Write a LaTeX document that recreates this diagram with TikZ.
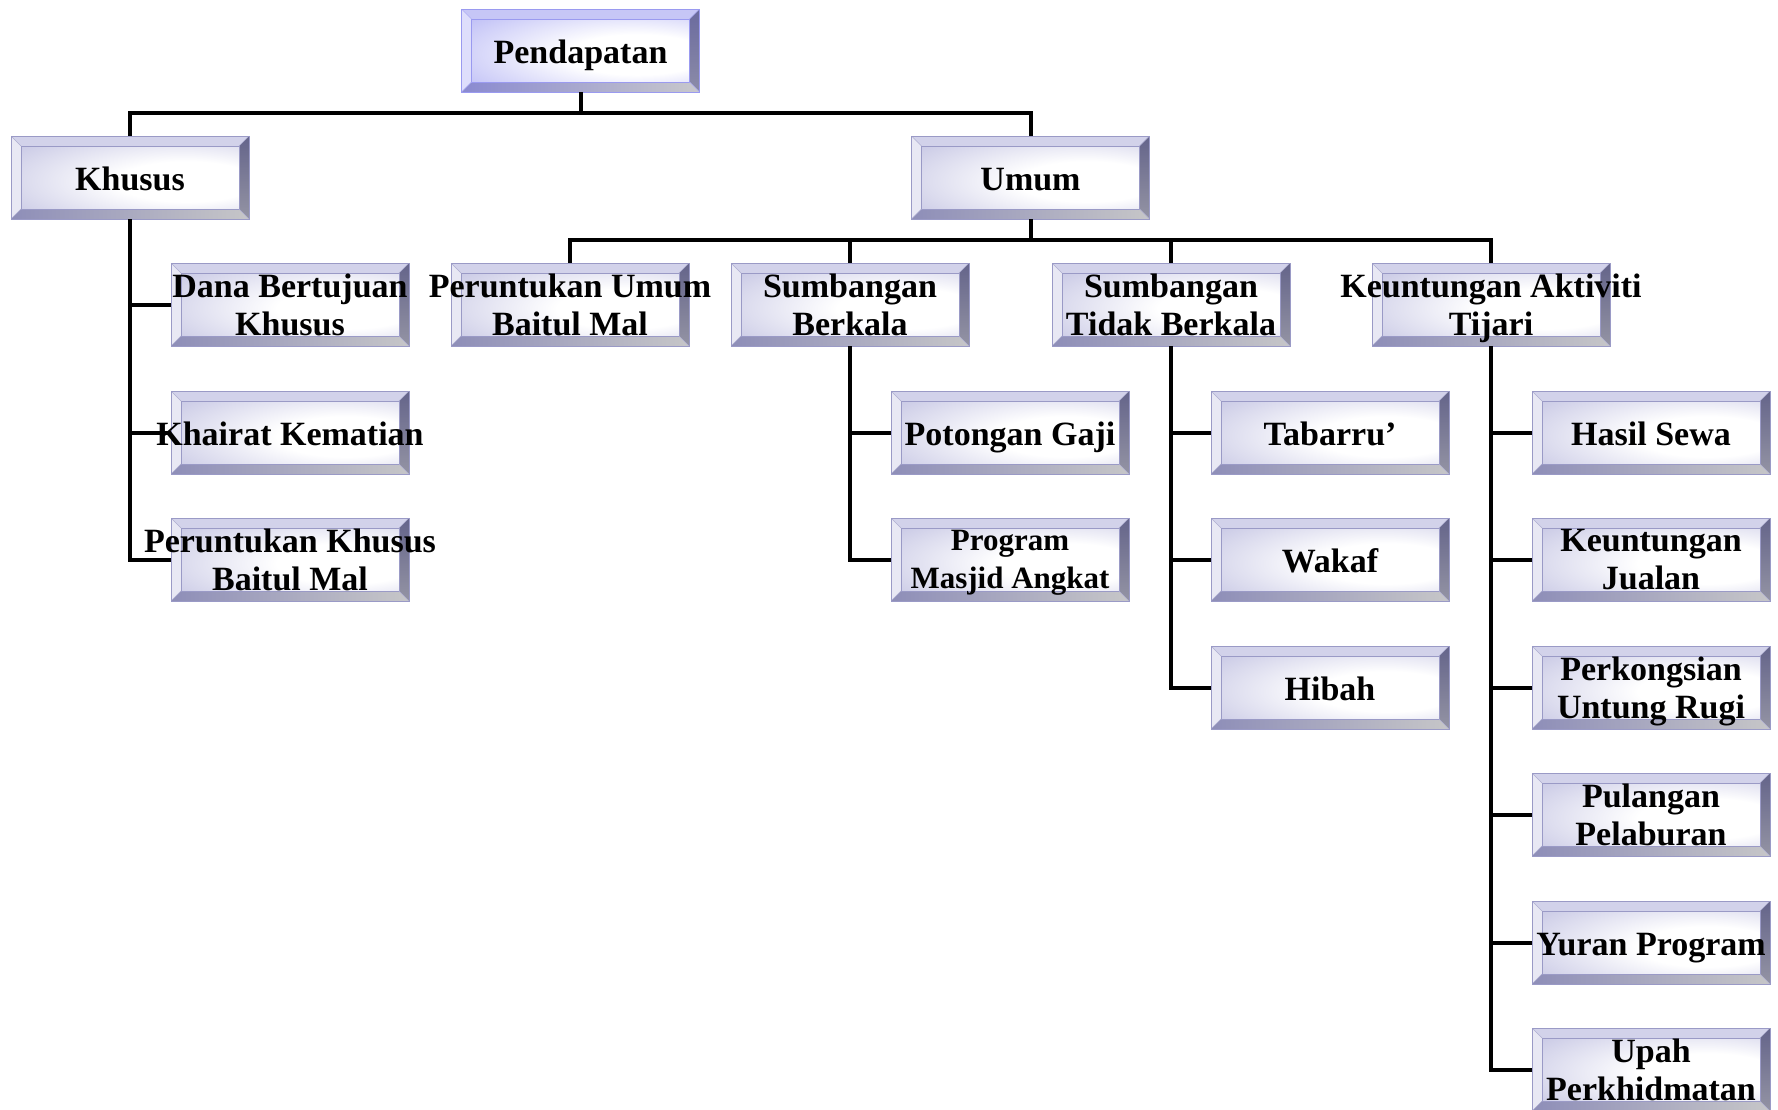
\documentclass[tikz,border=0pt]{standalone}
\usepackage{fontspec}
\setmainfont{Liberation Serif}
\usetikzlibrary{calc}
\definecolor{bborder}{HTML}{9A9AF0}
\definecolor{bface}{HTML}{A4A4F2}
\definecolor{btop}{HTML}{C6C6F6}
\definecolor{bleft}{HTML}{DEDEFC}
\definecolor{brt}{HTML}{6A6A9E}
\definecolor{brb}{HTML}{8C8CA8}
\definecolor{bbl}{HTML}{8A8AD0}
\definecolor{bbr}{HTML}{C8C8CC}
\definecolor{gborder}{HTML}{9A9AC6}
\definecolor{gface}{HTML}{B2B2DA}
\definecolor{gtop}{HTML}{D2D2EA}
\definecolor{gleft}{HTML}{E8E8F4}
\definecolor{grt}{HTML}{64648A}
\definecolor{grb}{HTML}{9494A4}
\definecolor{gbl}{HTML}{8E8EB8}
\definecolor{gbr}{HTML}{C6C6C8}
\pgfdeclareradialshading{brad}{\pgfpoint{16bp}{-4bp}}{color(0bp)=(white); color(16bp)=(white); color(55bp)=(bface); color(85bp)=(bface)}
\pgfdeclareradialshading{grad}{\pgfpoint{16bp}{-4bp}}{color(0bp)=(white); color(16bp)=(white); color(55bp)=(gface); color(85bp)=(gface)}
\tikzset{
  bevbox/.style={minimum width=238pt, minimum height=83pt, inner sep=0pt, draw=#1border, line width=0.8pt,
    path picture={
      \coordinate (bnw) at (path picture bounding box.north west);
      \coordinate (bne) at (path picture bounding box.north east);
      \coordinate (bsw) at (path picture bounding box.south west);
      \coordinate (bse) at (path picture bounding box.south east);
      \coordinate (inw) at ([shift={(10pt,-10pt)}]bnw);
      \coordinate (ine) at ([shift={(-10pt,-10pt)}]bne);
      \coordinate (isw) at ([shift={(10pt,10pt)}]bsw);
      \coordinate (ise) at ([shift={(-10pt,10pt)}]bse);
      \fill[#1face] (bsw) rectangle (bne);
      \shade[shading=#1rad] (isw) rectangle (ine);
      \fill[#1top] (bnw) -- (bne) -- (ine) -- (inw) -- cycle;
      \fill[#1left] (bnw) -- (inw) -- (isw) -- (bsw) -- cycle;
      \shade[top color=#1rt, bottom color=#1rb] (bne) -- (bse) -- (ise) -- (ine) -- cycle;
      \shade[left color=#1bl, right color=#1br] (bsw) -- (bse) -- (ise) -- (isw) -- cycle;
      \draw[#1border, line width=0.5pt] (isw) rectangle (ine);
      \draw[#1border!80!white, line width=0.4pt] (bnw) -- (inw) (bne) -- (ine) (bsw) -- (isw) (bse) -- (ise);
    }},
  lbl/.style={font=\bfseries\fontsize{34}{38}\selectfont, align=center, inner sep=0pt, text=black,
    execute at begin node=\strut, execute at end node=\strut, yshift=-5.6pt},
  lbls/.style={lbl, font=\bfseries\fontsize{31}{38}\selectfont},
  conn/.style={line width=4pt, black},
}
\newcommand\bx[6]{\node[bevbox=#5] (#1) at (#2,-#3) {}; \node[#6] (#1t) at (#1) {#4};}
\begin{document}
\begin{tikzpicture}[x=1pt,y=1pt]
\useasboundingbox (0,0) rectangle (1778,-1109);
% boxes
\bx{P}{580.5}{50.5}{Pendapatan}{b}{lbl}
\bx{K}{130}{177.5}{Khusus}{g}{lbl}
\bx{U}{1030.5}{177.5}{Umum}{g}{lbl}
\bx{DB}{290}{304.5}{Dana Bertujuan\\Khusus}{g}{lbl}
\bx{PU}{570}{304.5}{Peruntukan Umum\\Baitul Mal}{g}{lbl}
\bx{SB}{850}{304.5}{Sumbangan\\Berkala}{g}{lbl}
\bx{STB}{1171}{304.5}{Sumbangan\\Tidak Berkala}{g}{lbl}
\bx{KA}{1491}{304.5}{Keuntungan Aktiviti\\Tijari}{g}{lbl}
\bx{KK}{290}{432.5}{Khairat Kematian}{g}{lbl}
\bx{PK}{290}{559.5}{Peruntukan Khusus\\Baitul Mal}{g}{lbl}
\bx{PG}{1010}{432.5}{Potongan Gaji}{g}{lbl}
\bx{MA}{1010}{559.5}{Program\\Masjid Angkat}{g}{lbls}
\bx{TB}{1330}{432.5}{Tabarru’}{g}{lbl}
\bx{WK}{1330}{559.5}{Wakaf}{g}{lbl}
\bx{HB}{1330}{687.5}{Hibah}{g}{lbl}
\bx{HS}{1651}{432.5}{Hasil Sewa}{g}{lbl}
\bx{KJ}{1651}{559.5}{Keuntungan\\Jualan}{g}{lbl}
\bx{PUR}{1651}{687.5}{Perkongsian\\Untung Rugi}{g}{lbl}
\bx{PP}{1651}{814.5}{Pulangan\\Pelaburan}{g}{lbl}
\bx{YP}{1651}{942.5}{Yuran Program}{g}{lbl}
\bx{UP}{1651}{1069.5}{Upah\\Perkhidmatan}{g}{lbl}
% connectors
\draw[conn] (P.south) -- ++(0,-21) coordinate (b1);
\draw[conn] (K.north) |- (b1) -| (U.north);
\draw[conn] (U.south) -- ++(0,-21) coordinate (b2);
\draw[conn] (PU.north) |- (b2) -| (KA.north);
\draw[conn] (SB.north) |- (b2);
\draw[conn] (STB.north) |- (b2);
\draw[conn] (K.south) |- (PK.west);
\draw[conn] (K.south |- DB.west) -- (DB.west);
\draw[conn] (K.south |- KK.west) -- (KK.west);
\draw[conn] (SB.south) |- (MA.west);
\draw[conn] (SB.south |- PG.west) -- (PG.west);
\draw[conn] (STB.south) |- (HB.west);
\draw[conn] (STB.south |- TB.west) -- (TB.west);
\draw[conn] (STB.south |- WK.west) -- (WK.west);
\draw[conn] (KA.south) |- (UP.west);
\draw[conn] (KA.south |- HS.west) -- (HS.west);
\draw[conn] (KA.south |- KJ.west) -- (KJ.west);
\draw[conn] (KA.south |- PUR.west) -- (PUR.west);
\draw[conn] (KA.south |- PP.west) -- (PP.west);
\draw[conn] (KA.south |- YP.west) -- (YP.west);
\end{tikzpicture}
\end{document}
